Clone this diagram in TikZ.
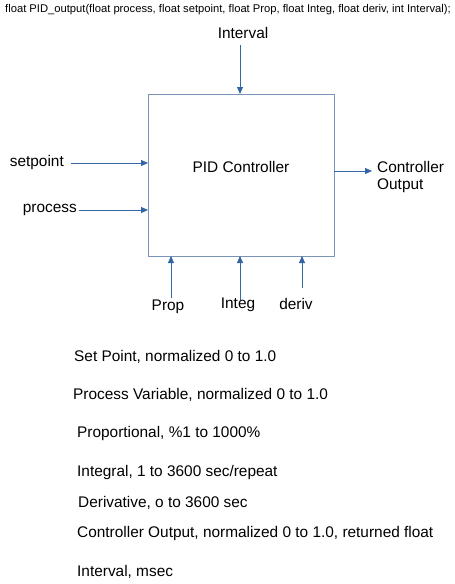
\documentclass[tikz,border=0pt]{standalone}
\usepackage{fontspec}
\setmainfont{Liberation Sans}
\usetikzlibrary{arrows.meta}
\definecolor{arr}{HTML}{3465A4}
\definecolor{boxc}{HTML}{7A94B8}
\begin{document}
\begin{tikzpicture}[x=1pt,y=-1pt,
  lbl/.style={inner sep=0pt,font=\fontsize{15.4}{17}\selectfont,text=black},
  desc/.style={lbl,anchor=west},
  conn/.style={draw=arr,line width=0.9pt,-{Triangle[length=7pt,width=6pt]}}]
\useasboundingbox (0,0) rectangle (455,584);
\node[anchor=west,inner sep=0pt,font=\fontsize{11.2}{13}\selectfont,text=black] (title) at (5,10) {float PID\_output(float process, float setpoint, float Prop, float Integ, float deriv, int Interval);};
\node[draw=boxc,line width=0.9pt,minimum width=186pt,minimum height=162pt,inner sep=0pt] (box) at (241,175) {};
\node[lbl] (pidtxt) at (241,167) {PID Controller};
\node[lbl] (interval) at (243,33) {Interval};
\coordinate (intin) at (240,94);
\draw[conn] (240,45) -- (intin);
\node[lbl,anchor=east] (setpoint) at (64,163) {setpoint};
\coordinate (spin) at (148,163);
\draw[conn] (71,163) -- (spin);
\node[lbl,anchor=east] (process) at (77,210) {process};
\coordinate (pin) at (148,210);
\draw[conn] (79,210) -- (pin);
\coordinate (outend) at (372,171);
\draw[conn] (334,171) -- (outend);
\node[lbl,anchor=west,align=left,font=\fontsize{15.4}{17}\selectfont] (ctrlout) at (377,177) {Controller\\Output};
\coordinate (propin) at (171,256);
\draw[conn] (171,298) -- (propin);
\node[lbl] (prop) at (168,307) {Prop};
\coordinate (integin) at (240,256);
\draw[conn] (240,300) -- (integin);
\node[lbl] (integ) at (238,305) {Integ};
\coordinate (derivin) at (302,256);
\draw[conn] (302,288) -- (derivin);
\node[lbl] (deriv) at (296,304) {deriv};
\node[desc] (d1) at (74,357) {Set Point, normalized 0 to 1.0};
\node[desc] (d2) at (73,395) {Process Variable, normalized 0 to 1.0};
\node[desc] (d3) at (77,434) {Proportional, \%1 to 1000\%};
\node[desc] (d4) at (77,473) {Integral, 1 to 3600 sec/repeat};
\node[desc] (d5) at (78,503) {Derivative, o to 3600 sec};
\node[desc] (d6) at (77,534) {Controller Output, normalized 0 to 1.0, returned float};
\node[desc] (d7) at (77,572) {Interval, msec};
\end{tikzpicture}
\end{document}
